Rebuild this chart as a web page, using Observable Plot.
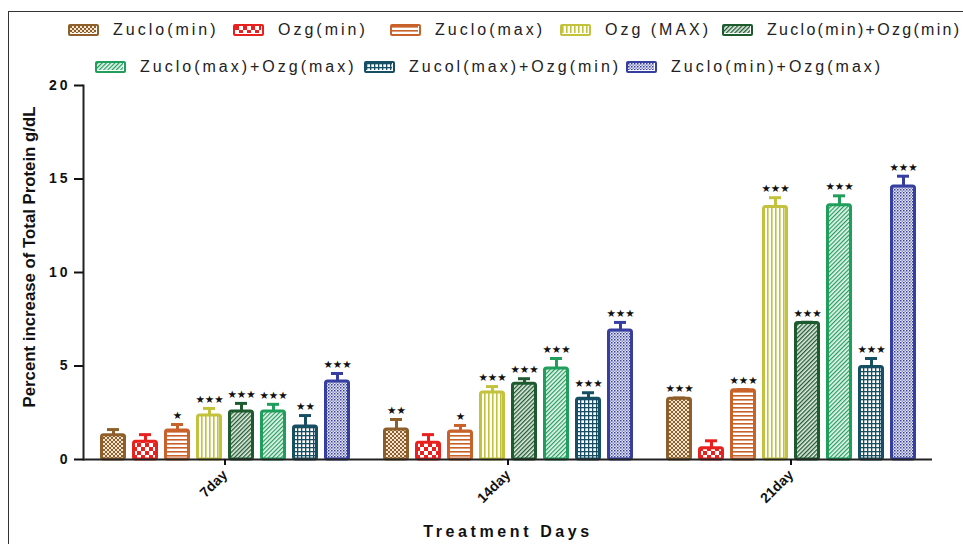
<!DOCTYPE html>
<html><head><meta charset="utf-8">
<script src="https://cdn.jsdelivr.net/npm/d3@7"></script>
<script src="https://cdn.jsdelivr.net/npm/@observablehq/plot@0.6"></script>
<style>
body{margin:0;background:#fff;font-family:"Liberation Sans",Arial,sans-serif;}
#wrap{position:relative;width:963px;height:544px;overflow:hidden;background:#fff;}
#border{position:absolute;left:8px;top:11px;width:970px;height:560px;border-left:1.5px solid #333;border-top:1.5px solid #333;}
#legend{position:absolute;left:0;top:0;width:963px;height:75px;}
.sw{position:absolute;width:31px;height:12px;box-sizing:border-box;border-radius:2px;}
.lt{position:absolute;font-size:16px;letter-spacing:3px;color:#222;white-space:nowrap;line-height:16px;}
#chart{position:absolute;left:0;top:75px;}
#ylabel{position:absolute;left:30px;top:257px;transform:translate(-50%,-50%) rotate(-90deg);font-size:16.8px;font-weight:bold;color:#111;white-space:nowrap;z-index:2;}
g[aria-label="y-axis tick label"] text{letter-spacing:3px;}
g[aria-label="fx-axis label"] text{font-size:16px;font-weight:bold;letter-spacing:3.6px;}
</style></head>
<body>
<svg width="0" height="0" style="position:absolute">
<defs>
<pattern id="p0" width="4" height="4" patternUnits="userSpaceOnUse"><rect width="4" height="4" fill="#f3e6d2"/><rect width="2" height="2" fill="#8e5f2a"/><rect x="2" y="2" width="2" height="2" fill="#8e5f2a"/></pattern>
<pattern id="p1" width="8" height="8" patternUnits="userSpaceOnUse"><rect width="8" height="8" fill="#fff"/><rect width="4" height="4" fill="#e8211f"/><rect x="4" y="4" width="4" height="4" fill="#e8211f"/></pattern>
<pattern id="p2" width="4" height="4" patternUnits="userSpaceOnUse"><rect width="4" height="4" fill="#fff"/><rect width="4" height="1.6" fill="#c8622a"/></pattern>
<pattern id="p3" width="4" height="4" patternUnits="userSpaceOnUse"><rect width="4" height="4" fill="#fff"/><rect width="1.6" height="4" fill="#c2c23c"/></pattern>
<pattern id="p4" width="3" height="3" patternUnits="userSpaceOnUse" patternTransform="rotate(45)"><rect width="3" height="3" fill="#e4ece6"/><rect width="1.3" height="3" fill="#1d5b2e"/></pattern>
<pattern id="p5" width="3" height="3" patternUnits="userSpaceOnUse" patternTransform="rotate(45)"><rect width="3" height="3" fill="#e8f5ee"/><rect width="1.2" height="3" fill="#1f9e5c"/></pattern>
<pattern id="p6" width="4" height="4" patternUnits="userSpaceOnUse"><rect width="4" height="4" fill="#fff"/><rect width="4" height="1.3" fill="#164f63"/><rect width="1.3" height="4" fill="#164f63"/></pattern>
<pattern id="p7" width="3" height="3" patternUnits="userSpaceOnUse"><rect width="3" height="3" fill="#e6e7f4"/><rect width="1.5" height="1.5" fill="#363fa0"/><rect x="1.5" y="1.5" width="1.5" height="1.5" fill="#8a90c9"/></pattern>
</defs></svg>
<div id="wrap"><div id="border"></div><div id="legend"></div><div id="ylabel">Percent increase of Total Protein g/dL</div><div id="chart"></div></div>
<script>
const days = ["7day", "14day", "21day"];
const seriesNames = ["Zuclo(min)", "Ozg(min)", "Zuclo(max)", "Ozg (MAX)", "Zuclo(min)+Ozg(min)", "Zuclo(max)+Ozg(max)", "Zucol(max)+Ozg(min)", "Zuclo(min)+Ozg(max)"];
const seriesColors = ["#8e5f2a", "#e8211f", "#c8622a", "#c2c23c", "#1d5b2e", "#1f9e5c", "#164f63", "#363fa0"];

const zucloMin = [1.3, 1.6, 3.25];
const ozgMin = [0.95, 0.9, 0.6];
const zucloMax = [1.55, 1.5, 3.7];
const ozgMax = [2.35, 3.58, 13.5];
const zMinOMin = [2.57, 4.05, 7.3];
const zMaxOMax = [2.57, 4.87, 13.6];
const zMaxOMin = [1.76, 3.25, 4.95];
const zMinOMax = [4.17, 6.9, 14.6];

const zucloMinErr = [0.3, 0.54, 0.04];
const ozgMinErr = [0.38, 0.43, 0.4];
const zucloMaxErr = [0.32, 0.32, 0.04];
const ozgMaxErr = [0.38, 0.32, 0.5];
const zMinOMinErr = [0.43, 0.27, 0.04];
const zMaxOMaxErr = [0.38, 0.53, 0.5];
const zMaxOMinErr = [0.59, 0.32, 0.45];
const zMinOMaxErr = [0.43, 0.43, 0.55];

const zucloMinSig = ["", "**", "***"];
const ozgMinSig = ["", "", ""];
const zucloMaxSig = ["*", "*", "***"];
const ozgMaxSig = ["***", "***", "***"];
const zMinOMinSig = ["***", "***", "***"];
const zMaxOMaxSig = ["***", "***", "***"];
const zMaxOMinSig = ["**", "***", "***"];
const zMinOMaxSig = ["***", "***", "***"];

const yTicks = [0, 5, 10, 15, 20];

const allMeans = [zucloMin, ozgMin, zucloMax, ozgMax, zMinOMin, zMaxOMax, zMaxOMin, zMinOMax];
const allErrs = [zucloMinErr, ozgMinErr, zucloMaxErr, ozgMaxErr, zMinOMinErr, zMaxOMaxErr, zMaxOMinErr, zMinOMaxErr];
const allSigs = [zucloMinSig, ozgMinSig, zucloMaxSig, ozgMaxSig, zMinOMinSig, zMaxOMaxSig, zMaxOMinSig, zMinOMaxSig];

const data = [];
seriesNames.forEach((s, i) => days.forEach((d, j) => data.push({
  day: d, series: s, idx: i, mean: allMeans[i][j], err: allErrs[i][j],
  top: allMeans[i][j] + allErrs[i][j],
  sig: allSigs[i][j].replace(/\*/g, "★"),
  color: seriesColors[i], pat: `url(#p${i})`
})));

// legend (layout positions)
const legendPos = [[68, 24], [233, 24], [390, 24], [560, 24], [722, 24], [95, 61], [364, 61], [626, 61]];
const lg = document.getElementById("legend");
seriesNames.forEach((s, i) => {
  const [x, y] = legendPos[i];
  const sw = document.createElement("div");
  sw.className = "sw";
  sw.style.left = x + "px"; sw.style.top = y + "px";
  sw.style.border = `2.5px solid ${seriesColors[i]}`;
  sw.innerHTML = `<svg width="26" height="7" style="display:block"><rect width="26" height="7" fill="url(#p${i})"/></svg>`;
  lg.appendChild(sw);
  const t = document.createElement("div");
  t.className = "lt";
  t.textContent = s;
  t.style.left = (x + 45) + "px"; t.style.top = (y - 2) + "px";
  if (i === 4) t.style.letterSpacing = "2.3px";
  lg.appendChild(t);
});

const chart = Plot.plot({
  width: 963,
  height: 469,
  marginLeft: 82,
  marginRight: 30,
  marginTop: 10,
  marginBottom: 85,
  style: {fontFamily: "Liberation Sans, Arial, sans-serif", color: "#111", background: "transparent"},
  fx: {domain: days, paddingInner: 0, paddingOuter: 0},
  x: {domain: seriesNames, paddingInner: 0.2, paddingOuter: 0.44, axis: null},
  y: {domain: [0, 20]},
  color: {type: "identity"},
  marks: [
    Plot.barY(data, {fx: "day", x: "series", y: "mean", fill: "pat", stroke: "color", strokeWidth: 3, insetLeft: 1.5, insetRight: 1.5, rx: 2}),
    Plot.ruleX(data, {fx: "day", x: "series", y1: "mean", y2: "top", stroke: "color", strokeWidth: 3}),
    Plot.tickY(data, {fx: "day", x: "series", y: "top", stroke: "color", strokeWidth: 3, insetLeft: 7, insetRight: 7}),
    Plot.text(data, {fx: "day", x: "series", y: "top", text: "sig", dy: -9, fontSize: 10.5, fill: "#111", fontFamily: "DejaVu Sans"}),
    Plot.ruleY([0], {stroke: "#222", strokeWidth: 2}),
    Plot.frame({anchor: "left", facetAnchor: "left", stroke: "#222", strokeWidth: 2}),
    Plot.axisY({ticks: yTicks, tickSize: 9, tickPadding: 4, strokeWidth: 2, fontWeight: "bold", fontSize: 14, label: null}),
    Plot.axisFx({anchor: "bottom", tickSize: 6, tickPadding: 7, tickRotate: -45, strokeWidth: 2, fontWeight: "bold", fontSize: 14, label: "Treatment Days", labelArrow: "none", labelAnchor: "center", labelOffset: 77})
  ]
});
document.getElementById("chart").appendChild(chart);
</script>
</body></html>
